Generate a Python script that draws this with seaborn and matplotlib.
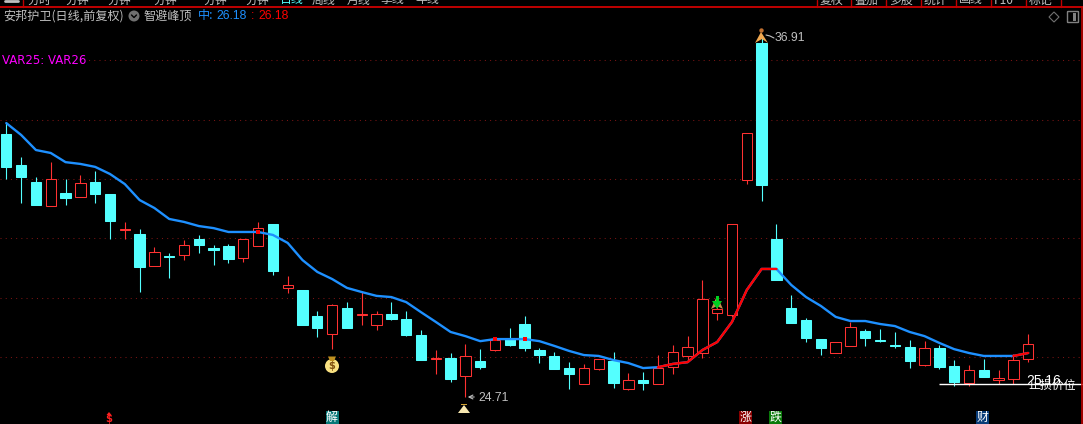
import matplotlib
matplotlib.use("Agg")
import matplotlib.pyplot as plt
from matplotlib.patches import Circle, FancyBboxPatch, Polygon, Rectangle
import numpy as np
import pandas as pd
import seaborn as sns

W, H = 1083, 424

# candle values (front-adjusted price)
opens = [33.60, 32.55, 31.98, 31.17, 31.61, 31.47, 31.98, 31.57, 30.36, 30.22,
         29.14, 29.48, 29.51, 30.05, 29.75, 29.82, 29.41, 29.82, 30.56, 28.40,
         28.33, 27.45, 26.84, 27.72, 27.48, 27.15, 27.52, 27.35, 26.81, 26.00,
         26.03, 25.42, 25.93, 26.30, 26.67, 27.18, 26.30, 26.10, 25.69, 25.15,
         25.66, 25.93, 24.98, 25.29, 25.15, 25.72, 26.10, 26.20, 27.55, 27.48,
         32.05, 36.68, 30.05, 27.72, 27.31, 26.67, 26.20, 26.44, 26.94, 26.64,
         26.47, 26.40, 25.79, 26.37, 25.76, 25.18, 25.62, 25.29, 25.32, 26.00]
closes = [32.49, 32.15, 31.20, 32.08, 31.44, 31.95, 31.57, 30.66, 30.39, 29.11,
          29.61, 29.44, 29.85, 29.85, 29.68, 29.38, 30.05, 30.42, 28.97, 28.50,
          27.15, 27.04, 27.82, 27.04, 27.52, 27.52, 27.35, 26.81, 25.96, 26.03,
          25.32, 26.10, 25.72, 26.64, 26.47, 26.37, 26.13, 25.66, 25.49, 25.69,
          26.00, 25.18, 25.29, 25.18, 25.69, 26.23, 26.40, 28.02, 27.69, 30.56,
          33.63, 31.88, 28.67, 27.21, 26.71, 26.37, 26.57, 27.08, 26.71, 26.60,
          26.44, 25.93, 26.37, 25.72, 25.22, 25.62, 25.39, 25.35, 25.96, 26.50]
highs = [33.97, 32.82, 32.15, 32.65, 32.08, 32.22, 32.35, 31.57, 30.63, 30.39,
         29.78, 29.58, 30.02, 30.19, 29.85, 29.89, 30.05, 30.63, 30.56, 28.80,
         28.33, 27.62, 27.86, 27.92, 28.29, 27.62, 27.92, 27.62, 26.98, 26.30,
         26.20, 26.50, 26.33, 26.67, 27.04, 27.45, 26.37, 26.23, 25.89, 25.83,
         26.00, 26.23, 25.52, 25.56, 26.13, 26.47, 26.77, 28.67, 28.09, 30.56,
         33.63, 36.91, 30.56, 28.16, 27.38, 26.67, 26.57, 27.25, 27.01, 27.01,
         26.91, 26.64, 26.60, 26.47, 25.96, 25.79, 26.00, 25.62, 26.16, 26.84]
lows = [32.08, 31.27, 31.20, 31.17, 31.20, 31.47, 31.27, 30.05, 30.05, 28.26,
        29.14, 28.73, 29.34, 29.58, 29.17, 29.24, 29.27, 29.82, 28.84, 28.23,
        27.15, 26.74, 26.33, 27.04, 27.15, 26.98, 27.31, 26.77, 25.96, 25.49,
        25.22, 24.71, 25.66, 26.27, 26.44, 26.27, 25.86, 25.66, 24.98, 25.15,
        25.62, 25.02, 24.95, 24.95, 25.15, 25.49, 25.96, 26.03, 27.31, 27.42,
        31.91, 31.34, 28.67, 27.21, 26.57, 26.13, 26.20, 26.44, 26.44, 26.57,
        26.37, 25.69, 25.76, 25.66, 25.08, 25.08, 25.39, 25.15, 25.15, 25.89]
ma_line = [33.97, 33.57, 33.06, 32.96, 32.65, 32.59, 32.49, 32.25, 31.91, 31.37,
           31.10, 30.73, 30.63, 30.49, 30.42, 30.29, 30.29, 30.29, 30.19, 29.92,
           29.34, 28.94, 28.70, 28.40, 28.26, 28.13, 28.09, 27.92, 27.58, 27.25,
           26.91, 26.77, 26.60, 26.67, 26.67, 26.67, 26.60, 26.44, 26.27, 26.13,
           26.10, 25.96, 25.86, 25.69, 25.72, 25.83, 25.89, 26.30, 26.57, 27.25,
           28.33, 29.04, 29.04, 28.50, 28.09, 27.79, 27.42, 27.28, 27.28, 27.18,
           27.11, 26.91, 26.77, 26.54, 26.33, 26.20, 26.10, 26.10, 26.10, 26.20]
grid_prices = [36.10, 34.09, 32.08, 30.08, 28.06, 26.06]
rising_runs = [(44, 52), (68, 69)]
red_ticks = [17, 33, 35]
stop_price = 25.15

tab_labels = ["分时", "分钟", "分钟", "分钟", "分钟", "分钟", "日线", "周线", "月线", "季线", "年线"]
tab_x = [28, 66, 107, 153, 203, 245, 280, 312, 347, 381, 415]
right_tabs = ["复权", "叠加", "多股", "统计", "画线", "F10", "标记"]
right_tab_x = [820, 854, 889, 924, 959, 994, 1029]
bottom_tags = [("解", 332, "#087878"), ("涨", 745.5, "#8a0000"), ("跌", 775.5, "#0a7a0a"), ("财", 982.5, "#0a3c78")]

CYAN = "#54FFFF"
RED = "#FF3232"
BLUE = "#1E90FF"
GRID = "#7A1414"
GREY = "#C0C0C0"
CJK = ["Noto Sans CJK SC", "DejaVu Sans"]

sns.set_theme(style="dark", rc={"figure.facecolor": "black", "axes.facecolor": "black"})
plt.rcParams["font.family"] = CJK

df = pd.DataFrame({"open": opens, "close": closes, "high": highs, "low": lows, "ma": ma_line})
df["x"] = df.index
df["up"] = df["close"] >= df["open"]
df["top"] = df[["open", "close"]].max(axis=1)
df["bottom"] = df[["open", "close"]].min(axis=1)

fig = plt.figure(figsize=(W / 100, H / 100), dpi=100)
ax = fig.add_axes([0, 0, 1, 1])
ax.set_xlim(-0.425, 72.70)
ax.set_ylim(23.80, 38.13)
ax.set_axis_off()

for price in grid_prices:
    ax.axhline(price, color=GRID, lw=0.75, ls=(0, (1, 4)), zorder=1)

# wicks first, the hollow bodies paint over them
for up, colour in [(True, RED), (False, CYAN)]:
    part = df[df["up"] == up]
    ax.vlines(part["x"], part["low"], part["high"], color=colour, lw=0.8, zorder=2)
    ax.bar(part["x"], part["top"] - part["bottom"], bottom=part["bottom"], width=0.70,
           facecolor="black" if up else colour, edgecolor=colour, linewidth=0.75, zorder=3)

# moving line, red while rising
sns.lineplot(data=df, x="x", y="ma", color=BLUE, lw=1.7, estimator=None, sort=False, ax=ax, zorder=5)
for start, end in rising_runs:
    sns.lineplot(data=df.iloc[start:end + 1], x="x", y="ma", color="#FF0000", lw=1.7,
                 estimator=None, sort=False, ax=ax, zorder=6)
sns.scatterplot(data=df.iloc[red_ticks], x="x", y="ma", color="#FF0000", marker="s", s=7,
                linewidth=0, ax=ax, zorder=6)
ax.set_xlabel("")
ax.set_ylabel("")

# stop loss line
ax.hlines(stop_price, 62.95, 72.7, color="white", lw=1.0, zorder=7)

# overlay artists in pixel positions of the window
overlay = fig.add_axes([0, 0, 1, 1], facecolor="none")
overlay.set_xlim(0, W)
overlay.set_ylim(H, 0)
overlay.set_axis_off()

# toolbar clipped at the top
overlay.plot([0, W], [6.5, 6.5], color="#C00000", lw=1.4)
overlay.plot([1082, 1082], [6.5, H], color="#C00000", lw=1.2)
overlay.plot([5, 18], [0.5, 0.5], color=GREY, lw=2)
overlay.plot([23, 23], [0, 6.5], color="#C00000", lw=1)
for sep in [817, 851, 886, 921, 956, 991, 1026, 1061]:
    overlay.plot([sep, sep], [0, 6.5], color="#C00000", lw=1)
clip = Rectangle((0, 0), W, 6, transform=overlay.transData)
for label, x in list(zip(tab_labels, tab_x)) + list(zip(right_tabs, right_tab_x)):
    col = CYAN if label == "日线" else GREY
    t = overlay.text(x, 0, label, color=col, fontsize=8.6, ha="left", va="center", family=CJK)
    t.set_clip_path(clip)

# header
overlay.text(3, 16, "安邦护卫(日线,前复权)", color=GREY, fontsize=8.7, va="center", family=CJK)
overlay.add_patch(Circle((134, 16), 5.5, color="#707070", lw=0))
overlay.plot([131.5, 134, 136.5], [15, 17.5, 15], color="black", lw=1.0)
overlay.text(144, 16, "智避峰顶", color=GREY, fontsize=8.7, va="center", family=CJK)
overlay.text(198, 16, "中:", color=BLUE, fontsize=8.7, va="center", family=CJK)
overlay.text(216, 16, "26.18", color=BLUE, fontsize=8.8, va="center", family="Liberation Sans")
overlay.text(251, 16, ":", color="#FF0000", fontsize=8.8, va="center", family="Liberation Sans")
overlay.text(258, 16, "26.18", color="#FF0000", fontsize=8.8, va="center", family="Liberation Sans")
overlay.text(2, 61, "VAR25: VAR26", color="#FF00FF", fontsize=8.5, va="center", family="DejaVu Sans",
             bbox=dict(facecolor="black", edgecolor="none", pad=1.5))

# right corner icons
overlay.add_patch(Polygon([(1054, 12), (1059, 17), (1054, 22), (1049, 17)], fill=False, edgecolor="#707070", lw=0.8))
overlay.add_patch(FancyBboxPatch((1068, 12), 10, 10, boxstyle="round,pad=0.5", fill=False, edgecolor="#808080", lw=1))
overlay.add_patch(Rectangle((1073, 13), 3, 8, color="#808080", lw=0))

# high and low tags
overlay.plot([766, 770, 774], [35, 36, 38], color=GREY, lw=0.8, zorder=8)
overlay.text(775, 38, "36.91", color=GREY, fontsize=8.8, va="center", family="Liberation Sans")
overlay.annotate("", xy=(465, 397), xytext=(477, 397), arrowprops=dict(arrowstyle="->", color=GREY, lw=0.8, mutation_scale=7))
overlay.text(478, 398, "24.71", color=GREY, fontsize=8.8, va="center", family="Liberation Sans")

# runner icon on top of the spike
overlay.add_patch(Polygon([(755, 43), (761, 32), (768, 43), (762, 39)], color="#F0A850", lw=0))
overlay.add_patch(Circle((761.5, 30.5), 2.2, color="#C07030", lw=0))
# green arrow icon
overlay.add_patch(Polygon([(711, 309), (717, 296), (723, 309), (717, 306)], color="#C89050", lw=0))
overlay.add_patch(Polygon([(712, 301), (722, 301), (717, 309)], color="#00D020", lw=0))
overlay.add_patch(Rectangle((716, 296), 2.5, 6, color="#00D020", lw=0))
# money bag
overlay.add_patch(Circle((332, 366), 7, color="#F8E080", lw=0))
overlay.add_patch(Polygon([(328, 356.5), (336, 356.5), (334, 361), (330, 361)], color="#C09020", lw=0))
overlay.text(332, 366, "$", color="#805010", fontsize=7, ha="center", va="center", family="DejaVu Sans", weight="bold")
# hourglass tag under the low
overlay.add_patch(Polygon([(458, 413), (464, 405), (470, 413)], color="#F8E8B0", lw=0))
overlay.add_patch(Rectangle((461, 403.5), 6, 1.5, color="#D0A030", lw=0))

# bottom tags
overlay.text(109, 419, "$", color="#FF2020", fontsize=7.2, ha="center", va="center", family="DejaVu Sans", weight="bold")
overlay.add_patch(Polygon([(106.5, 415), (109, 412), (111.5, 415)], color="#FF2020", lw=0))
for label, x, col in bottom_tags:
    overlay.add_patch(Rectangle((x - 6.5, 411), 13, 13, color=col, lw=0))
    overlay.text(x, 417.5, label, color="white", fontsize=8.6, ha="center", va="center", family=CJK)

# stop loss text, the two labels overlap in the source too
overlay.text(1026, 381, "25.16", color="white", fontsize=10, va="center", family="Liberation Sans")
overlay.text(1028, 385, "止损价位", color="white", fontsize=8.6, va="center", family=CJK)

fig.savefig("out.png", dpi=100, facecolor="black")
